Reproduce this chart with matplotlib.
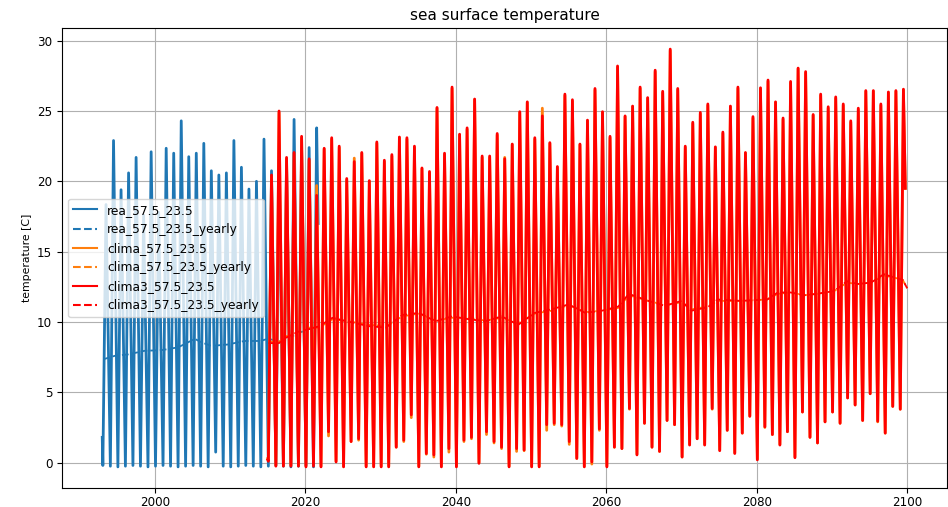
import numpy as np
import matplotlib
matplotlib.use("Agg")
import matplotlib.pyplot as plt

# seasonal extremes per year (winter minimum ~ Feb, summer maximum ~ Jul)
TROUGH_OFFSET = 0.08
PEAK_OFFSET = 0.5

# ---------------- reanalysis (rea) ----------------
rea_years = list(range(1993, 2022))
rea_min = [-0.2, -0.25, -0.3, -0.25, -0.2, -0.25, -0.3, -0.25, -0.2, -0.25,
           -0.3, -0.25, -0.2, -0.25, -0.3, 0.75, -0.25, -0.3, -0.25, -0.2,
           -0.25, -0.3, -0.25, -0.2, -0.25, -0.3, -0.25, -0.2, -0.3]
rea_max = [18.35, 22.9, 19.4, 20.6, 21.7, 17.6, 22.1, 17.8, 22.35, 22.0,
           24.3, 21.75, 22.0, 22.7, 20.75, 20.45, 20.6, 22.9, 21.0, 19.45,
           20.0, 23.0, 20.75, 21.5, 21.2, 24.4, 22.3, 22.4, 23.8]
rea_first = (1993.0, 1.8)
rea_last = (2021.7, 17.0)

rea_yearly_t = [1993.15, 1994.7, 1996.5, 1998.6, 2000.9, 2003.1, 2005.3, 2006.2,
                2007.5, 2009.7, 2011.9, 2014.0, 2015.0, 2017.0, 2019.0, 2021.0]
rea_yearly_v = [7.35, 7.6, 7.7, 7.95, 8.0, 8.2, 8.8, 8.55,
                8.3, 8.4, 8.65, 8.65, 8.8, 8.6, 9.2, 9.6]

# ---------------- scenario runs (clima, clima3) ----------------
clima_years = list(range(2015, 2100))

clima3_max = [20.45, 25.0, 21.7, 22.05, 23.2, 21.6, 19.0, 22.35, 23.1, 22.5,
              20.2, 21.4, 22.05, 20.05, 22.8, 21.5, 21.9, 23.15, 23.1, 22.5,
              20.95, 20.7, 25.25, 22.0, 26.7, 23.35, 23.8, 25.85, 21.8, 21.8,
              23.4, 21.6, 22.65, 24.95, 25.65, 23.1, 24.65, 22.75, 21.05, 26.2,
              25.8, 22.65, 24.35, 26.6, 24.95, 23.2, 28.2, 24.65, 25.35, 26.7,
              25.95, 27.9, 26.4, 29.4, 26.6, 22.5, 24.2, 24.9, 25.5, 22.45,
              23.5, 25.35, 26.7, 22.05, 24.6, 26.65, 27.2, 25.65, 24.5, 27.1,
              28.05, 27.8, 24.75, 26.2, 25.3, 26.0, 25.5, 24.3, 25.2, 26.45,
              26.45, 25.5, 26.35, 26.45, 26.55]
clima3_min = [0.1, -0.25, -0.25, -0.25, -0.25, -0.3, -0.25, -0.3, 2.2, 0.05,
              -0.3, 1.5, 1.7, -0.3, -0.3, -0.3, -0.3, 1.1, 1.6, 3.4,
              -0.3, 0.65, 0.55, -0.3, 1.0, -0.3, 1.6, 1.8, -0.05, 2.2,
              1.5, 1.1, -0.3, 1.0, 0.9, -0.3, -0.3, 2.7, 2.8, 2.7,
              1.5, 0.3, -0.3, 0.05, 2.4, -0.3, 1.1, 1.0, 3.85, 0.55,
              2.8, 1.1, 0.8, 3.0, 2.7, 0.4, 1.25, 1.7, 1.25, 3.85,
              0.85, 2.3, 0.65, 2.1, 3.3, 0.2, 2.55, 2.0, 1.25, 2.2,
              0.35, 3.6, 1.8, 1.4, 2.9, 3.6, 2.8, 4.6, 4.1, 3.0,
              4.9, 2.95, 2.1, 4.0, 3.8]

clima_max = [20.3, 24.9, 21.6, 22.0, 23.1, 21.5, 19.7, 22.3, 23.0, 22.4,
             20.1, 21.65, 22.0, 20.0, 22.7, 21.4, 21.8, 23.1, 23.0, 22.4,
             20.9, 20.6, 25.2, 21.9, 26.6, 23.3, 23.7, 25.8, 21.7, 21.7,
             23.3, 21.7, 22.6, 24.9, 25.6, 23.0, 25.2, 22.7, 21.0, 26.1,
             25.7, 22.6, 24.3, 26.5, 24.9, 23.1, 28.1, 24.6, 25.3, 26.6,
             25.9, 27.8, 26.3, 29.3, 26.5, 22.4, 24.1, 24.8, 25.4, 22.4,
             23.4, 25.3, 26.6, 22.0, 24.5, 26.6, 27.1, 25.6, 24.4, 27.0,
             28.0, 27.7, 24.7, 26.1, 25.2, 25.9, 25.4, 24.2, 25.1, 26.4,
             26.4, 25.4, 26.3, 26.4, 26.5]
clima_min = [0.2, -0.2, -0.2, -0.2, -0.2, -0.25, 1.1, -0.25, 1.9, 0.1,
             -0.25, 1.5, 1.6, -0.25, -0.25, -0.25, -0.25, 1.1, 1.5, 3.2,
             -0.25, 0.6, 0.4, -0.25, 0.75, -0.25, 1.5, 1.7, 0.0, 2.0,
             1.4, 1.0, -0.25, 0.8, 0.85, -0.25, -0.25, 2.3, 2.7, 2.6,
             1.3, 0.3, -0.25, -0.1, 2.3, -0.25, 1.1, 1.0, 3.8, 0.6,
             2.8, 1.1, 0.8, 3.0, 2.7, 0.4, 1.3, 1.7, 1.3, 3.8,
             0.9, 2.3, 0.7, 2.1, 3.3, 0.25, 2.5, 2.0, 1.3, 2.2,
             0.4, 3.6, 1.8, 1.4, 2.9, 3.6, 2.8, 4.6, 4.1, 3.0,
             4.9, 2.9, 2.1, 4.0, 3.8]
clima_first = (2015.0, 0.3)
clima_last = (2099.75, 19.5)
clima3_first = (2015.0, 0.2)
clima3_last = (2099.75, 19.5)

clima3_yearly_t = [2015.1, 2016.5, 2017.5, 2019.0, 2020.5, 2021.85, 2023.6, 2026.3,
                   2028.5, 2030.7, 2032.9, 2035.1, 2037.3, 2039.5, 2041.7, 2043.9,
                   2046.1, 2048.3, 2050.5, 2052.7, 2055.0, 2057.2, 2059.4, 2061.6,
                   2063.0, 2065.6, 2067.8, 2070.0, 2071.3, 2073.5, 2074.8, 2077.9,
                   2081.4, 2082.8, 2084.5, 2086.3, 2088.0, 2090.3, 2092.0, 2093.4,
                   2095.2, 2096.9, 2098.7, 2099.4, 2100.0]
clima3_yearly_v = [8.5, 8.5, 8.9, 9.3, 9.5, 9.7, 10.3, 9.95,
                   9.7, 9.6, 10.5, 10.65, 10.05, 10.4, 10.2, 10.05,
                   10.4, 9.8, 10.65, 10.9, 11.25, 10.65, 10.8, 11.1,
                   12.0, 11.5, 11.15, 11.5, 10.8, 11.05, 11.6, 11.5,
                   11.6, 12.1, 12.1, 11.9, 12.0, 12.2, 12.9, 12.7,
                   12.8, 13.4, 13.1, 13.0, 12.4]
clima_yearly_v = [8.6, 8.6, 9.0, 9.2, 9.6, 9.6, 10.2, 10.0,
                  9.8, 9.7, 10.4, 10.6, 10.1, 10.3, 10.3, 10.1,
                  10.3, 9.9, 10.6, 10.8, 11.2, 10.7, 10.8, 11.0,
                  11.9, 11.5, 11.2, 11.4, 10.9, 11.1, 11.5, 11.5,
                  11.6, 12.0, 12.1, 11.9, 12.0, 12.2, 12.8, 12.7,
                  12.8, 13.3, 13.1, 13.0, 12.4]


def seasonal(years, lows, highs, first, last):
    t = [first[0]]
    v = [first[1]]
    for y, lo, hi in zip(years, lows, highs):
        t += [y + TROUGH_OFFSET, y + PEAK_OFFSET]
        v += [lo, hi]
    t.append(last[0])
    v.append(last[1])
    return np.array(t), np.array(v)


rea_t, rea_v = seasonal(rea_years, rea_min, rea_max, rea_first, rea_last)
clima_t, clima_v = seasonal(clima_years, clima_min, clima_max, clima_first, clima_last)
clima3_t, clima3_v = seasonal(clima_years, clima3_min, clima3_max, clima3_first, clima3_last)

fig = plt.figure(figsize=(9.48, 5.07), dpi=100)
ax = fig.add_axes([0.0654, 0.0375, 0.9340, 0.9073])

lw = 2.0
ax.plot(rea_t, rea_v, color="tab:blue", lw=lw, label="rea_57.5_23.5")
ax.plot(rea_yearly_t, rea_yearly_v, color="tab:blue", lw=1.3, ls="--",
        label="rea_57.5_23.5_yearly")
ax.plot(clima_t, clima_v, color="tab:orange", lw=lw, label="clima_57.5_23.5")
ax.plot(clima3_yearly_t, clima_yearly_v, color="tab:orange", lw=1.3, ls="--",
        label="clima_57.5_23.5_yearly")
ax.plot(clima3_t, clima3_v, color="red", lw=lw, label="clima3_57.5_23.5")
ax.plot(clima3_yearly_t, clima3_yearly_v, color="red", lw=1.3, ls="--",
        label="clima3_57.5_23.5_yearly")

ax.set_xlim(1987.65, 2105.35)
ax.set_ylim(-1.8, 30.9)
ax.set_xticks([2000, 2020, 2040, 2060, 2080, 2100])
ax.set_yticks([0, 5, 10, 15, 20, 25, 30])
ax.tick_params(labelsize=8.6)
ax.tick_params(axis="x", pad=2)
ax.grid(True)
ax.set_title("sea surface temperature", fontsize=11)
ax.set_ylabel("temperature [C]", fontsize=7.8)

leg = ax.legend(loc="center left", fontsize=8.8)
for line in leg.get_lines():
    line.set_linewidth(1.5)

fig.savefig("out.png", dpi=100)
